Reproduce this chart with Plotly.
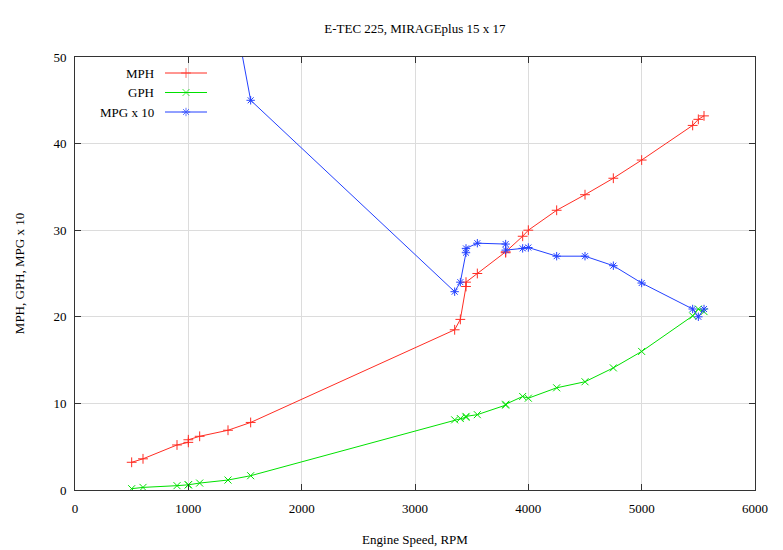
import plotly.graph_objects as go

# engine speed readings (rpm); repeated values are repeat measurements
rpm = [500, 600, 900, 1000, 1000, 1100, 1350, 1550, 3350, 3400, 3450, 3450,
       3550, 3800, 3800, 3950, 4000, 4250, 4500, 4750, 5000, 5450, 5500, 5550]
mph = [3.2, 3.6, 5.2, 5.5, 5.8, 6.2, 6.9, 7.8, 18.5, 19.7, 23.5, 24.0,
       25.0, 27.4, 27.5, 29.3, 30.0, 32.3, 34.1, 36.0, 38.1, 42.1, 42.8, 43.2]
gph = [0.15, 0.3, 0.5, 0.6, 0.6, 0.8, 1.15, 1.65, 8.1, 8.25, 8.4, 8.5,
       8.7, 9.8, 9.9, 10.8, 10.6, 11.8, 12.5, 14.1, 16.0, 20.1, 20.9, 20.6]
# low-rpm values run off the top of the chart, only the slope is visible
mpg10 = [200, 120, 100, 92, 97, 78, 59, 45, 22.9, 24.0, 27.4, 27.9,
         28.5, 28.4, 27.7, 27.9, 28.0, 27.0, 27.0, 25.9, 23.9, 20.9, 20.0, 20.9]

x_ticks = [0, 1000, 2000, 3000, 4000, 5000, 6000]
y_ticks = [0, 10, 20, 30, 40, 50]

series = [
    ("MPH", mph, "rgb(255,45,35)", "cross-thin"),
    ("GPH", gph, "rgb(0,225,0)", "x-thin"),
    ("MPG x 10", mpg10, "rgb(35,65,255)", "asterisk"),
]

font = "Liberation Serif, Times New Roman, serif"
fig = go.Figure()

for name, vals, col, sym in series:
    fig.add_trace(go.Scatter(
        x=rpm, y=vals, mode="lines+markers", name=name,
        line=dict(color=col, width=1),
        marker=dict(symbol=sym, size=7, color=col, line=dict(color=col, width=1)),
        showlegend=False,
    ))

# hand-made key in the gnuplot style (label, then sample), on a pixel overlay
for i, (name, vals, col, sym) in enumerate(series):
    yy = 73 + i * 19.5
    fig.add_trace(go.Scatter(
        x=[165, 186, 207], y=[yy, yy, yy], xaxis="x2", yaxis="y2",
        mode="lines+markers", line=dict(color=col, width=1),
        marker=dict(symbol=sym, size=[0, 7, 0], color=col, line=dict(color=col, width=1)),
        showlegend=False, hoverinfo="skip",
    ))
    fig.add_annotation(x=156, y=yy, xref="x2", yref="y2", text=name,
                       showarrow=False, xanchor="right", yanchor="middle",
                       font=dict(family=font, size=13, color="black"))

axis_common = dict(
    showgrid=True, gridcolor="#dcdcdc", gridwidth=1,
    showline=True, linecolor="#333", linewidth=1, mirror="ticks",
    ticks="inside", ticklen=6, tickcolor="#333", automargin=False,
    zeroline=False, tickfont=dict(family=font, size=13, color="black"),
)

# the page body adds an 8px margin, so the figure is 8px smaller each way
fig.update_layout(
    width=775, height=542,
    margin=dict(l=67, r=28, t=49, b=60),
    paper_bgcolor="white", plot_bgcolor="white",
    title=dict(text="E-TEC 225, MIRAGEplus 15 x 17", x=0.525, xanchor="center",
               y=0.963, yanchor="middle", font=dict(family=font, size=13, color="black")),
    xaxis=dict(range=[0, 6000], tickvals=x_ticks, ticklabelstandoff=6,
               title=dict(text="Engine Speed, RPM", standoff=20,
                          font=dict(family=font, size=13, color="black")),
               **axis_common),
    yaxis=dict(range=[0, 50], tickvals=y_ticks, ticklabelstandoff=5,
               title=dict(text="MPH, GPH, MPG x 10", standoff=25,
                          font=dict(family=font, size=13, color="black")),
               **axis_common),
    xaxis2=dict(range=[75, 755], overlaying="x", visible=False, fixedrange=True),
    yaxis2=dict(range=[490, 57], overlaying="y", visible=False, fixedrange=True),
)

fig.write_html("out.html")
